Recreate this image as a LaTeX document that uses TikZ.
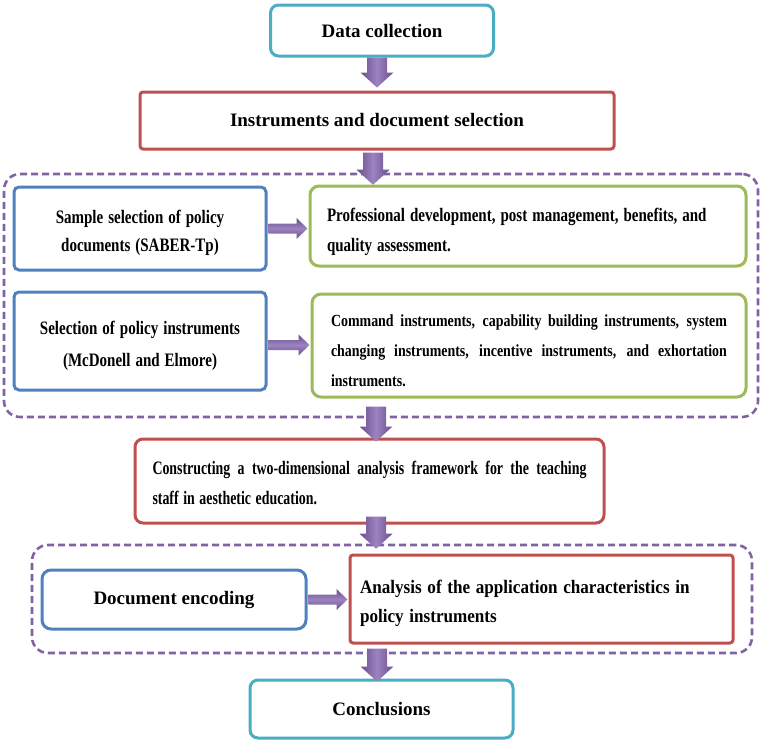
\documentclass[tikz,border=0pt]{standalone}
\usepackage{fontspec}
\usepackage{graphicx}
\setmainfont{Liberation Serif}
\usetikzlibrary{calc}
\definecolor{cyanB}{HTML}{4BACC6}
\definecolor{redB}{HTML}{C0504D}
\definecolor{blueB}{HTML}{4F81BD}
\definecolor{greenB}{HTML}{9BBB59}
\definecolor{purpB}{HTML}{8064A2}
\definecolor{purpL}{HTML}{9C84C0}
\definecolor{purpD}{HTML}{6A4C8E}
\newcommand{\bigf}{\fontsize{19}{23}\selectfont}
\newcommand{\sq}[2]{\scalebox{#1}[1]{#2}}
\newcommand{\jline}[3]{\scalebox{#1}[1]{\hbox to #2{\spaceskip=0.25em plus 1fil\relax #3}}}
\newcommand{\tstrut}[1]{\rule{0pt}{#1}}
\begin{document}
\begin{tikzpicture}[x=1pt,y=-1pt,
  box/.style={draw, line width=3pt, fill=white, inner sep=0pt, font=\bfseries},
  cyanbox/.style={box, draw=cyanB, rounded corners=8pt},
  redbox/.style={box, draw=redB, rounded corners=5pt},
  bluebox/.style={box, draw=blueB, rounded corners=5pt},
  greenbox/.style={box, draw=greenB, rounded corners=9pt},
  grp/.style={draw=purpB, line width=2.6pt, dash pattern=on 7pt off 4pt, rounded corners=16pt, inner sep=0pt},
  varrow/.style={left color=purpD, right color=purpD, middle color=purpL,
    to path={let \p1=(\tikztostart), \p2=(\tikztotarget) in
      (\x1-10pt,\y1) -- (\x1+10pt,\y1) -- (\x1+10pt,\y2+15pt) -- (\x1+16.5pt,\y2+15pt)
      -- (\x1,\y2) -- (\x1-16.5pt,\y2+15pt) -- (\x1-10pt,\y2+15pt) -- cycle}},
  harrow/.style={top color=purpD, bottom color=purpD, middle color=purpL,
    to path={let \p1=(\tikztostart), \p2=(\tikztotarget) in
      (\x1,\y1+5pt) -- (\x2-11pt,\y1+5pt) -- (\x2-11pt,\y1+10.5pt) -- (\x2,\y1)
      -- (\x2-11pt,\y1-10.5pt) -- (\x2-11pt,\y1-5pt) -- (\x1,\y1-5pt) -- cycle}}
  ]
\useasboundingbox (0,0) rectangle (763,742);
% groups
\node[grp, minimum width=754pt, minimum height=243pt] (g1) at (381,295.5) {};
\node[grp, minimum width=720pt, minimum height=108pt] (g2) at (392,599) {};
% boxes
\node[cyanbox, minimum width=223pt, minimum height=51pt] (dc) at (382,30.5) {\bigf Data collection};
\node[redbox, rounded corners=3pt, minimum width=474pt, minimum height=57pt] (ins) at (377,120.5) {\bigf Instruments and document selection};
\node[bluebox, minimum width=252pt, minimum height=83pt, text width=240pt, align=center,
  font=\bfseries\fontsize{19}{28}\selectfont] (samp) at (140,228.5)
  {\tstrut{22pt}\sq{0.79}{Sample selection of policy}\\ \sq{0.79}{documents (SABER-Tp)}};
\node[greenbox, minimum width=436pt, minimum height=80pt, text width=402pt, align=left,
  font=\bfseries\fontsize{19}{30}\selectfont] (gr1) at (528,226)
  {\tstrut{25pt}\sq{0.79}{Professional development, post management, benefits, and}\\ \sq{0.79}{quality assessment.}};
\node[bluebox, minimum width=252pt, minimum height=98pt, text width=240pt, align=center,
  font=\bfseries\fontsize{19}{32}\selectfont] (sel) at (140,341)
  {\tstrut{23pt}\sq{0.79}{Selection of policy instruments}\\ \sq{0.79}{(McDonell and Elmore)}};
\node[greenbox, minimum width=434pt, minimum height=103pt, text width=396pt, align=left,
  font=\bfseries\fontsize{17}{30}\selectfont] (gr2) at (529,345.5)
  {\tstrut{22pt}\jline{0.82}{482.9pt}{Command instruments, capability building instruments, system}\\
   \jline{0.82}{482.9pt}{changing instruments, incentive instruments, and exhortation}\\
   \sq{0.82}{instruments.}};
\node[redbox, rounded corners=8pt, minimum width=469pt, minimum height=84pt, text width=434pt, align=left,
  font=\bfseries\fontsize{19}{30}\selectfont] (cons) at (369.5,481)
  {\tstrut{17pt}\jline{0.73}{594.5pt}{Constructing a two-dimensional analysis framework for the teaching}\\
   \sq{0.73}{staff in aesthetic education.}};
\node[bluebox, rounded corners=9pt, minimum width=264pt, minimum height=59pt] (enc) at (174,599.5) {\bigf Document encoding};
\node[redbox, rounded corners=3pt, minimum width=383pt, minimum height=88pt, text width=363pt, align=left,
  font=\bfseries\fontsize{19}{29}\selectfont] (ana) at (541.5,599)
  {\tstrut{22pt}\sq{0.9}{Analysis of the application characteristics in}\\ \sq{0.9}{policy instruments}};
\node[cyanbox, minimum width=263pt, minimum height=58pt] (conc) at (381.5,709) {\bigf Conclusions};
% block arrows
\path[varrow] ([xshift=-5pt]dc.south) to ([yshift=3pt]ins.north);
\path[varrow] ([xshift=-4pt,yshift=-2pt]ins.south) to ([yshift=-12pt]g1.north);
\path[harrow] ([xshift=1pt]samp.east) to ([xshift=-1pt]gr1.west);
\path[harrow] ([xshift=1pt,yshift=-4pt]sel.east) to ([xshift=-1pt]gr2.west);
\path[varrow] ([xshift=6.5pt,yshift=31pt]cons.north) to ([yshift=-4pt]cons.north);
\path[varrow] ([xshift=6.5pt,yshift=8pt]cons.south) to ([yshift=-5pt]g2.north);
\path[harrow] ([xshift=1pt]enc.east) to ([xshift=-1pt]ana.west);
\path[varrow] ([xshift=-4.5pt,yshift=30pt]conc.north) to ([yshift=-3pt]conc.north);
\end{tikzpicture}
\end{document}
